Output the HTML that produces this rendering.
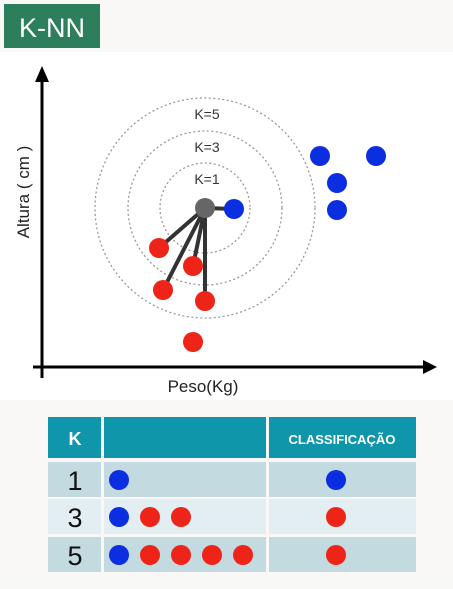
<!DOCTYPE html>
<html><head><meta charset="utf-8"><style>
body{margin:0;width:453px;height:584px;background:#f8f8f7;overflow:hidden;font-family:"Liberation Sans",sans-serif}
</style></head><body>
<svg width="453" height="584" viewBox="0 0 453 584">
<rect x="0" y="0" width="453" height="584" fill="#f9f8f6"/>
<rect x="0" y="52" width="453" height="348" fill="#ffffff"/>
<rect x="4" y="4" width="96" height="44" fill="#2d7f5c"/>
<text x="52" y="37" font-size="27" fill="#fff" text-anchor="middle" font-family="Liberation Sans Narrow, Liberation Sans, sans-serif">K-NN</text>
<g id="plot"></g>
<g id="tbl"></g>
</svg>
<script>
const blueX=[234,320,376,337,337];
const blueY=[209,156,156,183,210];
const redX=[159,193,163,205,193];
const redY=[248,266,290,301,342];
const ringR=[45,77,110];
const ringLabels=["K=1","K=3","K=5"];
const queryPt=[205,208];
const neighbors=[["b",0],["r",0],["r",1],["r",2],["r",3]];
const tableK=["1","3","5"];
const tableNeighbors=[["b"],["b","r","r"],["b","r","r","r","r"]];
const tableClass=["b","r","r"];
const NS="http://www.w3.org/2000/svg";
function mk(t,a,p){const e=document.createElementNS(NS,t);for(const k in a)e.setAttribute(k,a[k]);p.appendChild(e);return e;}
const P=document.getElementById('plot');
const col={b:"#0a2ee0",r:"#ee2418"};
// axes
let ax=mk('line',{x1:42,y1:80,x2:42,y2:378,stroke:"#000","stroke-width":3},P);


let ay=mk('polygon',{points:"35,82 49,82 42,66",fill:"#000"},P);


let ax2=mk('line',{x1:33,y1:367,x2:425,y2:367,stroke:"#000","stroke-width":3},P);


let ax3=mk('polygon',{points:"423,360 423,374 437,367",fill:"#000"},P);


let yt=mk('text',{x:0,y:0,"font-size":17,fill:"#222","text-anchor":"middle",transform:"translate(29,192) rotate(-90)"},P);
yt.textContent="Altura ( cm )";


let xt=mk('text',{x:203,y:392,"font-size":17,fill:"#222","text-anchor":"middle"},P);
xt.textContent="Peso(Kg)";


ringR.forEach((r,i)=>{
 let c=mk('circle',{cx:queryPt[0],cy:queryPt[1],r:r,fill:"none",stroke:"#999","stroke-width":1.3,"stroke-dasharray":"2,2.5"},P);
 
 
 let t=mk('text',{x:queryPt[0]+2,y:queryPt[1]-r+21,"font-size":14,fill:"#333","text-anchor":"middle"},P);
 t.textContent=ringLabels[i];
 
 
});
neighbors.forEach(n=>{
 const x=n[0]=="b"?blueX[n[1]]:redX[n[1]], y=n[0]=="b"?blueY[n[1]]:redY[n[1]];
 let l=mk('line',{x1:queryPt[0],y1:queryPt[1],x2:x,y2:y,stroke:"#333","stroke-width":4},P);
 
 
});
blueX.forEach((x,i)=>{let c=mk('circle',{cx:x,cy:blueY[i],r:10,fill:col.b},P);
 
 });
redX.forEach((x,i)=>{let c=mk('circle',{cx:x,cy:redY[i],r:10,fill:col.r},P);
 
 });
let q=mk('circle',{cx:queryPt[0],cy:queryPt[1],r:10,fill:"#666"},P);


// table
const T=document.getElementById('tbl');
const cols=[[48,53],[104,162],[269,147]];
cols.forEach((c,i)=>{let r=mk('rect',{x:c[0],y:417,width:c[1],height:41,fill:"#0f96ab"},T);
 
 });
let h1=mk('text',{x:75,y:445,"font-size":18,"font-weight":"bold",fill:"#fff","text-anchor":"middle"},T);
h1.textContent="K";


let h2=mk('text',{x:342,y:444,"font-size":13,"font-weight":"bold",fill:"#fff","text-anchor":"middle"},T);
h2.textContent="CLASSIFICAÇÃO";


const rowY=[462,499,537], fills=["#c4dae1","#e2eef2","#c4dae1"];
tableK.forEach((k,i)=>{
 cols.forEach(c=>{let r=mk('rect',{x:c[0],y:rowY[i],width:c[1],height:35,fill:fills[i]},T);
  
  });
 const cy=rowY[i]+18;
 let t=mk('text',{x:75,y:cy+10,"font-size":27,fill:"#111","text-anchor":"middle"},T);
 t.textContent=k;
 
 
 tableNeighbors[i].forEach((n,j)=>{let c=mk('circle',{cx:119+j*31,cy:cy,r:10,fill:col[n]},T);
  
  });
 let c=mk('circle',{cx:336,cy:cy,r:10,fill:col[tableClass[i]]},T);
 
 
});
</script>
</body></html>
